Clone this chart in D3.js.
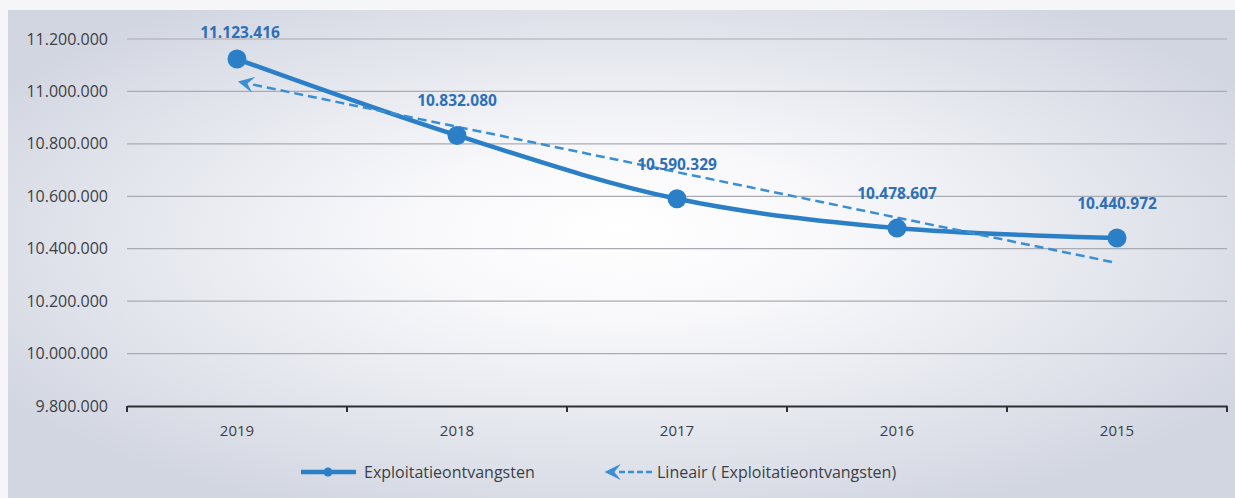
<!DOCTYPE html>
<html>
<head>
<meta charset="utf-8">
<script src="https://cdn.jsdelivr.net/npm/d3@7"></script>
<style>
  body { margin: 0; background: #f4f4f6; }
  svg { display: block; }
</style>
</head>
<body>
<script>
// data
var years = ["2019", "2018", "2017", "2016", "2015"];
var values = [11123416, 10832080, 10590329, 10478607, 10440972];
var yTicks = [9800000, 10000000, 10200000, 10400000, 10600000, 10800000, 11000000, 11200000];
var seriesName = "Exploitatieontvangsten";
var trendName = "Lineair ( Exploitatieontvangsten)";

var w = 1235, h = 498;
var mLeft = 127, mRight = 1227, mTop = 39, mBottom = 406;
var font = "Open Sans, Liberation Sans, sans-serif";

var fmt = function (v) { return d3.format(",")(v).replace(/,/g, "."); };

var svg = d3.select("body").append("svg").attr("width", w).attr("height", h);

var defs = svg.append("defs");
var grad = defs.append("radialGradient").attr("id", "bg")
  .attr("cx", "50%").attr("cy", "48%").attr("r", "60%")
  .attr("fx", "50%").attr("fy", "45%");
grad.append("stop").attr("offset", "0%").attr("stop-color", "#ffffff");
grad.append("stop").attr("offset", "30%").attr("stop-color", "#f8f8fb");
grad.append("stop").attr("offset", "70%").attr("stop-color", "#e2e5ec");
grad.append("stop").attr("offset", "100%").attr("stop-color", "#d2d6e1");

defs.append("marker").attr("id", "arrow")
  .attr("viewBox", "0 0 10 10").attr("refX", 3).attr("refY", 5)
  .attr("markerWidth", 6.5).attr("markerHeight", 6.5)
  .attr("orient", "auto-start-reverse")
  .append("path").attr("d", "M0,0 L10,5 L0,10 L4,5 Z").attr("fill", "#3a8fd4");

svg.append("rect").attr("x", 0).attr("y", 0).attr("width", w).attr("height", h).attr("fill", "#f6f6f8");
svg.append("rect").attr("x", 8).attr("y", 10).attr("width", w - 8).attr("height", h - 10).attr("fill", "url(#bg)");

var x = d3.scaleBand().domain(years).range([mLeft, mRight]);
var y = d3.scaleLinear().domain([9800000, 11200000]).range([mBottom, mTop]);

// gridlines
svg.append("g").selectAll("line").data(yTicks.slice(1)).enter().append("line")
  .attr("x1", mLeft).attr("x2", mRight)
  .attr("y1", function (d) { return y(d); }).attr("y2", function (d) { return y(d); })
  .attr("stroke", "#a9abb2").attr("stroke-width", 1.2);

// y labels
svg.append("g").selectAll("text").data(yTicks).enter().append("text")
  .attr("x", 108).attr("y", function (d) { return y(d); }).attr("dy", "0.35em")
  .attr("text-anchor", "end")
  .style("font-family", font).style("font-size", "16px")
  .style("fill", "#3d3f45")
  .text(fmt);

// x axis
var xAxis = d3.axisBottom(x).tickSize(0).tickPadding(19);
var gx = svg.append("g").attr("transform", "translate(0," + mBottom + ")").call(xAxis);
gx.select(".domain").attr("stroke", "#2e2f33").attr("stroke-width", 2);
gx.selectAll("text").style("font-family", font)
  .style("font-size", "15px").style("fill", "#3d3f45");
var bounds = years.map(function (d) { return x(d); }).concat([mRight]);
gx.selectAll("line.sep").data(bounds).enter().append("line").attr("class", "sep")
  .attr("x1", function (d) { return d; }).attr("x2", function (d) { return d; })
  .attr("y1", 0).attr("y2", 6).attr("stroke", "#2e2f33").attr("stroke-width", 2);

var cx = function (i) { return x(years[i]) + x.bandwidth() / 2; };

// linear trend (least squares on the series)
var n = values.length, mx = (n - 1) / 2, my = d3.mean(values);
var sxy = 0, sxx = 0;
values.forEach(function (v, i) { sxy += (i - mx) * (v - my); sxx += (i - mx) * (i - mx); });
var slope = sxy / sxx;
var trend = [0, n - 1].map(function (i) { return { i: i, v: my + slope * (i - mx) }; });

// series line
var line = d3.line().x(function (d, i) { return cx(i); }).y(function (d) { return y(d); })
  .curve(d3.curveCatmullRom.alpha(0.5));
svg.append("path").datum(values).attr("d", line)
  .attr("fill", "none").attr("stroke", "#2b7fc6").attr("stroke-width", 4.5);

svg.append("line")
  .attr("x1", cx(trend[1].i) - 5).attr("y1", y(trend[1].v))
  .attr("x2", cx(trend[0].i) + 12).attr("y2", y(trend[0].v) + 2)
  .attr("stroke", "#3a8fd4").attr("stroke-width", 2.5).attr("stroke-dasharray", "9,5")
  .attr("marker-end", "url(#arrow)");

svg.append("g").selectAll("circle").data(values).enter().append("circle")
  .attr("cx", function (d, i) { return cx(i); }).attr("cy", function (d) { return y(d); })
  .attr("r", 9.5).attr("fill", "#2b7fc6");

svg.append("g").selectAll("text").data(values).enter().append("text")
  .attr("x", function (d, i) { return cx(i) + (i === 0 ? 3 : 0); })
  .attr("y", function (d, i) { return Math.max(y(d) - 29, 38); })
  .attr("text-anchor", "middle")
  .style("font-family", font).style("font-size", "15.5px")
  .style("font-weight", "bold").style("fill", "#2d6fb8")
  .text(fmt);

// legend
var lg = svg.append("g").attr("transform", "translate(0,472)");
lg.append("line").attr("x1", 301).attr("x2", 356).attr("y1", 0).attr("y2", 0)
  .attr("stroke", "#2b7fc6").attr("stroke-width", 4.5);
lg.append("circle").attr("cx", 328).attr("cy", 0).attr("r", 4.5).attr("fill", "#2b7fc6");
lg.append("text").attr("x", 364).attr("y", 0).attr("dy", "0.35em")
  .style("font-family", font).style("font-size", "16px")
  .style("fill", "#3d3f45").text(seriesName);
lg.append("line").attr("x1", 652).attr("x2", 616).attr("y1", 0).attr("y2", 0)
  .attr("stroke", "#3a8fd4").attr("stroke-width", 2.5).attr("stroke-dasharray", "6,3")
  .attr("marker-end", "url(#arrow)");
lg.append("text").attr("x", 657).attr("y", 0).attr("dy", "0.35em")
  .style("font-family", font).style("font-size", "16px")
  .style("fill", "#3d3f45").text(trendName);
</script>
</body>
</html>
